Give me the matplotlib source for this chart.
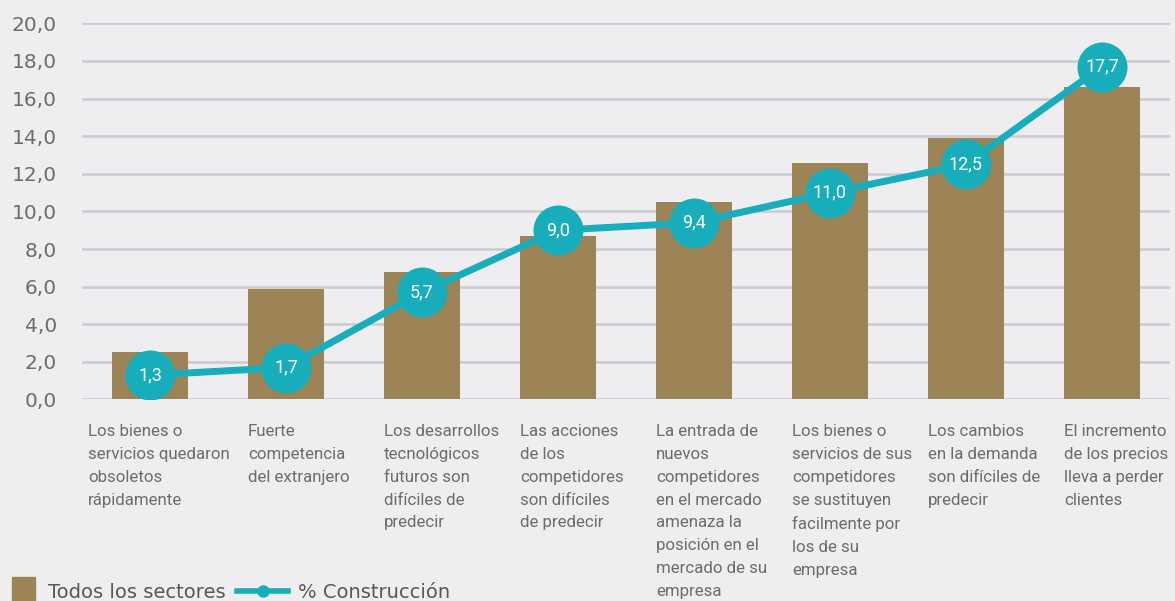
import matplotlib
matplotlib.use("Agg")
import matplotlib.pyplot as plt
from matplotlib.patches import Rectangle
from matplotlib.lines import Line2D
from matplotlib.transforms import blended_transform_factory, offset_copy

categories = [
    "Los bienes o\nservicios quedaron\nobsoletos\nrápidamente",
    "Fuerte\ncompetencia\ndel extranjero",
    "Los desarrollos\ntecnológicos\nfuturos son\ndifíciles de\npredecir",
    "Las acciones\nde los\ncompetidores\nson difíciles\nde predecir",
    "La entrada de\nnuevos\ncompetidores\nen el mercado\namenaza la\nposición en el\nmercado de su\nempresa",
    "Los bienes o\nservicios de sus\ncompetidores\nse sustituyen\nfacilmente por\nlos de su\nempresa",
    "Los cambios\nen la demanda\nson difíciles de\npredecir",
    "El incremento\nde los precios\nlleva a perder\nclientes",
]
todos_sectores = [2.5, 5.9, 6.8, 8.7, 10.5, 12.6, 13.9, 16.6]
construccion = [1.3, 1.7, 5.7, 9.0, 9.4, 11.0, 12.5, 17.7]
yticks = [0, 2, 4, 6, 8, 10, 12, 14, 16, 18, 20]
legend_labels = ["Todos los sectores", "% Construcción"]

BAR = "#9d8456"
TEAL = "#17adbb"
GRID = "#cbcbcf"
TEXT = "#6c6c6e"
BG = "#eeeef0"

fig = plt.figure(figsize=(11.75, 6.01), dpi=100, facecolor=BG)
ax = fig.add_axes([0.0698, 0.3353, 0.9259, 0.6258])
ax.set_facecolor(BG)

x = list(range(len(categories)))
ax.bar(x, todos_sectores, width=0.56, color=BAR, zorder=2)
ax.plot(x, construccion, color=TEAL, lw=5, zorder=3,
        marker="o", markersize=36, markeredgewidth=0)
for xi, v in zip(x, construccion):
    ax.text(xi, v, f"{v:.1f}".replace(".", ","), color="white",
            ha="center", va="center", fontsize=13, zorder=4,
            family="Roboto")

ax.set_xlim(-0.5, 7.5)
ax.set_ylim(0, 20)
ax.set_yticks(yticks)
ax.set_yticklabels([f"{t:.1f}".replace(".", ",") for t in yticks],
                   fontsize=14.5, color=TEXT, family="DejaVu Sans")
ax.tick_params(axis="y", length=0, pad=18)
ax.set_xticks([])
ax.yaxis.grid(True, color=GRID, lw=1.8, zorder=0)
for s in ax.spines.values():
    s.set_visible(False)

# category captions under each bar, left-aligned to the bar edge
tr = blended_transform_factory(ax.transData, ax.transAxes)
for i, lab in enumerate(categories):
    xpos = i - 0.28 if i > 0 else -0.456
    ax.text(xpos, 0, lab, transform=offset_copy(tr, fig=fig, y=-17.5, units="points"),
            ha="left", va="top", fontsize=12.2, color=TEXT,
            family="Roboto", linespacing=1.66)

# legend drawn along the bottom edge
W, H = fig.get_size_inches() * fig.dpi
fig.patches.append(Rectangle((12 / W, 0), 23 / W, 24 / H, color=BAR,
                             transform=fig.transFigure))
fig.text(48 / W, 9 / H, legend_labels[0], fontsize=14, color="#58585a",
         family="DejaVu Sans", va="center", ha="left")
fig.lines.append(Line2D([237 / W, 288 / W], [10 / H, 10 / H], color=TEAL, lw=4,
                        transform=fig.transFigure))
fig.lines.append(Line2D([262.5 / W], [10 / H], color=TEAL, marker="o",
                        markersize=9, markeredgewidth=0, transform=fig.transFigure))
fig.text(298 / W, 9 / H, legend_labels[1], fontsize=14, color="#58585a",
         family="DejaVu Sans", va="center", ha="left")

fig.savefig("out.png", dpi=100, facecolor=BG)
